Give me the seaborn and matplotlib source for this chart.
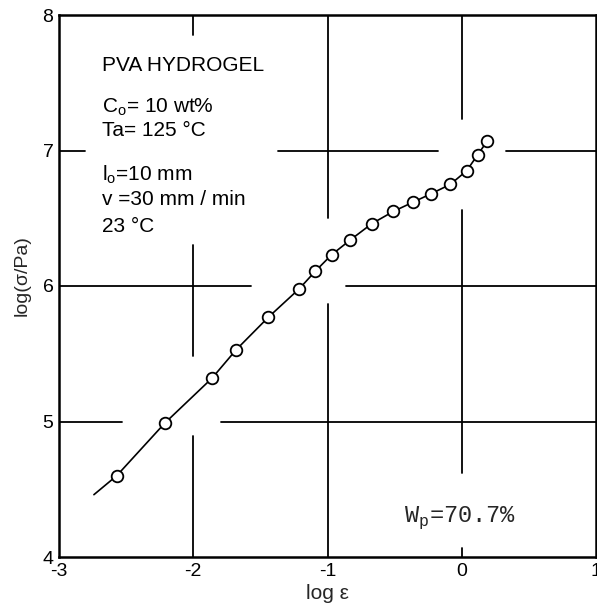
import numpy as np
import pandas as pd
import seaborn as sns
import matplotlib.pyplot as plt

sns.set_style("white")
plt.rcParams['font.family'] = ['Liberation Sans', 'DejaVu Sans']
plt.rcParams['mathtext.fontset'] = 'custom'
plt.rcParams['mathtext.rm'] = 'Liberation Sans'
plt.rcParams['mathtext.tt'] = 'Liberation Mono'
plt.rcParams['axes.unicode_minus'] = False

# data: log strain vs log stress
log_strain = [-2.57, -2.21, -1.86, -1.68, -1.44, -1.21, -1.09, -0.97, -0.83,
              -0.67, -0.51, -0.36, -0.23, -0.085, 0.036, 0.12, 0.19]
log_stress = [4.60, 4.99, 5.32, 5.53, 5.77, 5.98, 6.11, 6.23, 6.34,
              6.46, 6.55, 6.62, 6.68, 6.75, 6.85, 6.97, 7.07]
# the drawn curve starts a bit below the first point
curve_start_x = [-2.74]
curve_start_y = [4.46]

x_ticks = [-3, -2, -1, 0, 1]
y_ticks = [4, 5, 6, 7, 8]

pts = pd.DataFrame({'x': log_strain, 'y': log_stress})
curve = pd.DataFrame({'x': curve_start_x + log_strain, 'y': curve_start_y + log_stress})

# broken grid lines (gaps leave room for the text and the curve)
v_segments = [(-2, 7.85, 8.0), (-2, 5.48, 6.30), (-2, 4.0, 4.89),
              (-1, 6.50, 8.0), (-1, 4.0, 5.87),
              (0, 7.23, 8.0), (0, 4.62, 6.56), (0, 4.0, 4.07)]
h_segments = [(7, -3, -2.81), (7, -1.37, -0.18), (7, 0.33, 1),
              (6, -3, -1.57), (6, -0.86, 1),
              (5, -3, -2.53), (5, -1.79, 1)]

fig = plt.figure(figsize=(5.97, 6.06), dpi=100)
ax = fig.add_axes([59 / 597, 1 - 557 / 606, (596 - 59) / 597, (557 - 15) / 606])

for x, y0, y1 in v_segments:
    ax.plot([x, x], [y0, y1], color='black', lw=1.3, zorder=1)
for y, x0, x1 in h_segments:
    ax.plot([x0, x1], [y, y], color='black', lw=1.3, zorder=1)

sns.lineplot(data=curve, x='x', y='y', sort=False, estimator=None,
             color='black', lw=1.2, ax=ax, zorder=2)
sns.scatterplot(data=pts, x='x', y='y', s=70, facecolor='white',
                edgecolor='black', linewidth=1.3, ax=ax, zorder=3)

ax.set_xlim(-3, 1)
ax.set_ylim(4, 8)
ax.set_xticks(x_ticks)
ax.set_yticks(y_ticks)
ax.tick_params(length=0, labelsize=14, pad=4, colors='black')
for s in ax.spines.values():
    s.set_linewidth(1.8)
    s.set_color('black')

ax.set_xlabel('log ε', fontsize=15, labelpad=3)
ax.set_ylabel('log(σ/Pa)', fontsize=14)
ax.yaxis.set_label_coords(-0.052, 0.52)

txt = dict(fontsize=15, va='baseline', ha='left', color='black')
ax.text(-2.68, 7.59, 'PVA HYDROGEL', **txt)
ax.text(-2.68, 7.28, r'C$_\mathrm{o}$= 10 wt%', **txt)
ax.text(-2.68, 7.11, 'Ta= 125 °C', **txt)
ax.text(-2.68, 6.78, r'l$_\mathrm{o}$=10 mm', **txt)
ax.text(-2.68, 6.60, 'v =30 mm / min', **txt)
ax.text(-2.68, 6.40, '23 °C', **txt)
ax.text(-0.43, 4.26, r'W$_\mathtt{p}$=70.7%', fontsize=17, family='Liberation Mono',
        va='baseline', ha='left')

fig.savefig('out.png', dpi=100)
